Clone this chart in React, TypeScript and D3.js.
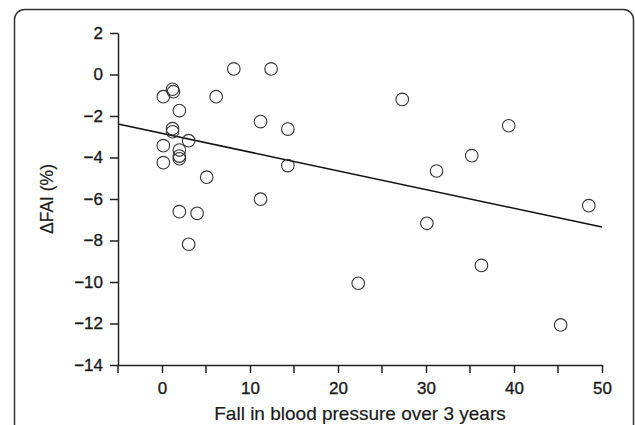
import React, { useRef, useEffect } from "react";
import * as d3 from "d3";

// Data
const fallBP = [
  0.15, 1.2, 1.3, 1.97, 1.2, 1.2, 0.15, 0.15, 1.97, 1.97, 1.97, 3.03, 5.08, 1.97, 3.99, 3.03,
  6.15, 8.16, 12.4, 11.2, 14.3, 14.3, 11.2, 27.3, 39.4, 35.2, 31.2, 48.5, 30.1, 36.3, 22.3, 45.3,
];
const deltaFAI = [
  -1.07, -0.71, -0.83, -1.74, -2.61, -2.76, -3.43, -4.25, -3.64, -3.93, -4.06, -3.19, -4.95, -6.61, -6.69, -8.18,
  -1.07, 0.27, 0.27, -2.27, -2.63, -4.39, -6.01, -1.2, -2.47, -3.91, -4.65, -6.32, -7.17, -9.2, -10.06, -12.07,
];
const xTicks = [0, 10, 20, 30, 40, 50];
const xMinorTicks = [-5, 5, 15, 25, 35, 45];
const yTicks = [2, 0, -2, -4, -6, -8, -10, -12, -14];
// regression line (intercept, slope)
const fitIntercept = -2.84;
const fitSlope = -0.0902;

const ScatterChart = () => {
  const svgRef = useRef<SVGSVGElement>(null);

  useEffect(() => {
    const width = 635;
    const height = 425;
    const margins = { left: 118, right: 33, top: 33, bottom: 60 };

    const svg = d3.select(svgRef.current).attr("width", width).attr("height", height);
    svg.selectAll("*").remove();

    // frame
    svg
      .append("rect")
      .attr("x", 14.5)
      .attr("y", 9.5)
      .attr("width", 619)
      .attr("height", 470)
      .attr("rx", 10)
      .attr("fill", "none")
      .attr("stroke", "#333")
      .attr("stroke-width", 1.5);

    const xScale = d3.scaleLinear().domain([-5, 50]).range([margins.left, width - margins.right]);
    const yScale = d3.scaleLinear().domain([-14, 2]).range([height - margins.bottom, margins.top]);

    const font = "'Liberation Sans', Arial, sans-serif";

    // Axes
    const yAxis = d3.axisLeft(yScale).tickValues(yTicks).tickSize(8).tickSizeOuter(0);
    const gy = svg.append("g").attr("transform", `translate(${margins.left},0)`).call(yAxis);

    const xAxis = d3.axisBottom(xScale).tickValues(xTicks).tickSize(8).tickSizeOuter(0);
    const gx = svg.append("g").attr("transform", `translate(0,${height - margins.bottom})`).call(xAxis);

    gx.selectAll(".minor")
      .data(xMinorTicks)
      .enter()
      .append("line")
      .attr("x1", (d) => xScale(d))
      .attr("x2", (d) => xScale(d))
      .attr("y1", 0)
      .attr("y2", 8);

    [gx, gy].forEach((g) => {
      g.select(".domain").attr("stroke", "#222").attr("stroke-width", 1.5);
      g.selectAll("line").attr("stroke", "#222").attr("stroke-width", 1.5);
      g.selectAll("text")
        .attr("font-family", font)
        .attr("font-size", 17)
        .attr("fill", "#1a1a1a")
        .attr("stroke", "#1a1a1a")
        .attr("stroke-width", 0.35);
    });
    gy.selectAll("text").attr("x", -15);
    gx.selectAll("text").attr("y", 29).attr("dy", 0);

    // Axis titles
    svg
      .append("text")
      .attr("x", (margins.left + width - margins.right) / 2)
      .attr("y", 420)
      .attr("text-anchor", "middle")
      .attr("font-family", font)
      .attr("font-size", 19)
      .attr("fill", "#1a1a1a")
      .attr("stroke", "#1a1a1a")
      .attr("stroke-width", 0.2)
      .text("Fall in blood pressure over 3 years");

    svg
      .append("text")
      .attr("transform", `translate(53,${(margins.top + height - margins.bottom) / 2}) rotate(-90)`)
      .attr("text-anchor", "middle")
      .attr("font-family", font)
      .attr("font-size", 17.5)
      .attr("fill", "#1a1a1a")
      .attr("stroke", "#1a1a1a")
      .attr("stroke-width", 0.2)
      .text("ΔFAI (%)");

    // Regression line
    const line = d3
      .line<number>()
      .x((d) => xScale(d))
      .y((d) => yScale(fitIntercept + fitSlope * d));
    svg
      .append("path")
      .datum([-5, 50])
      .attr("d", line)
      .attr("fill", "none")
      .attr("stroke", "#111")
      .attr("stroke-width", 1.6);

    // Points
    svg
      .append("g")
      .selectAll("circle")
      .data(fallBP)
      .enter()
      .append("circle")
      .attr("cx", (d) => xScale(d))
      .attr("cy", (d, i) => yScale(deltaFAI[i]))
      .attr("r", 6.3)
      .attr("fill", "none")
      .attr("stroke", "#333")
      .attr("stroke-width", 1.1);
  }, []);

  return <svg ref={svgRef} style={{ position: "absolute", left: 0, top: 0, background: "#fff" }} />;
};

const App = () => {
  return <ScatterChart />;
};

export default App;
